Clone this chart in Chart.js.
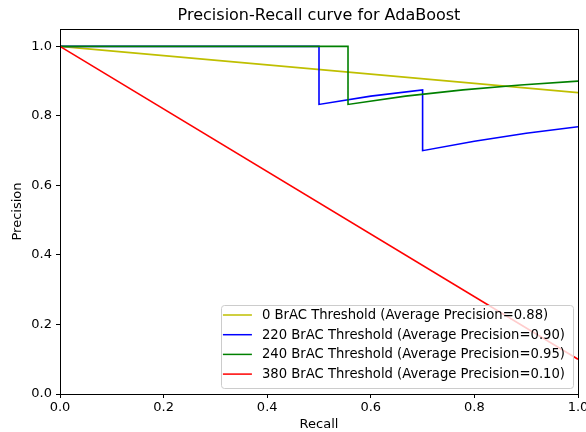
<!DOCTYPE html>
<html>
<head>
<meta charset="utf-8">
<script src="https://cdn.jsdelivr.net/npm/chart.js@4.4.1/dist/chart.umd.min.js"></script>
<style>
  html, body { margin: 0; padding: 0; background: #fff; }
</style>
</head>
<body>
<canvas id="myChart" width="586" height="432"></canvas>
<script>
// values
const recall0 = [0, 1];
const precision0 = [1, 0.867];
const recall220 = [0, 0.5, 0.5, 0.6, 0.7, 0.7, 0.8, 0.9, 1.0];
const precision220 = [1, 1, 0.833, 0.857, 0.875, 0.7, 0.727, 0.75, 0.769];
const recall240 = [0, 0.556, 0.556, 0.667, 0.778, 0.889, 1.0];
const precision240 = [1, 1, 0.833, 0.857, 0.875, 0.889, 0.9];
const recall380 = [0, 1];
const precision380 = [1, 0.1];

const seriesLabels = [
  "0 BrAC Threshold (Average Precision=0.88)",
  "220 BrAC Threshold (Average Precision=0.90)",
  "240 BrAC Threshold (Average Precision=0.95)",
  "380 BrAC Threshold (Average Precision=0.10)",
];
const seriesColors = ["#bfbf00", "#0000ff", "#008000", "#ff0000"];
const xTicks = [0, 0.2, 0.4, 0.6, 0.8, 1.0];
const yTicks = [0, 0.2, 0.4, 0.6, 0.8, 1.0];
const chartTitle = "Precision-Recall curve for AdaBoost";

const FONT = "DejaVu Sans";

function toPoints(xs, ys) {
  return xs.map((x, i) => ({ x: x, y: ys[i] }));
}

const allSeries = [
  [recall0, precision0],
  [recall220, precision220],
  [recall240, precision240],
  [recall380, precision380],
];

// frame, title and the boxed legend in the lower right, matplotlib style
const extras = {
  id: "extras",
  afterDatasetsDraw(chart) {
    const { ctx, chartArea: a } = chart;
    ctx.save();
    ctx.strokeStyle = "#000";
    ctx.lineWidth = 1;
    ctx.strokeRect(Math.round(a.left) + 0.5, Math.round(a.top) + 0.5,
      Math.round(a.right - a.left), Math.round(a.bottom - a.top));

    // title
    ctx.fillStyle = "#000";
    ctx.font = "16px '" + FONT + "'";
    ctx.textAlign = "center";
    ctx.textBaseline = "middle";
    ctx.fillText(chartTitle, (a.left + a.right) / 2, 16);

    // legend
    ctx.font = "13.2px '" + FONT + "'";
    let maxW = 0;
    seriesLabels.forEach((t) => { maxW = Math.max(maxW, ctx.measureText(t).width); });
    const rowH = 19.7;
    const boxW = 41 + maxW + 8;
    const boxH = 83;
    const bx = a.right - 5 - boxW;
    const by = a.bottom - 6.5 - boxH;
    ctx.beginPath();
    ctx.roundRect(Math.round(bx) + 0.5, Math.round(by) + 0.5, Math.round(boxW), Math.round(boxH), 3);
    ctx.fillStyle = "rgba(255,255,255,0.8)";
    ctx.fill();
    ctx.strokeStyle = "#cccccc";
    ctx.stroke();
    ctx.textAlign = "left";
    seriesLabels.forEach((t, i) => {
      const y = by + 10.5 + i * rowH;
      ctx.beginPath();
      ctx.strokeStyle = seriesColors[i];
      ctx.lineWidth = 1.5;
      ctx.moveTo(bx + 2, y);
      ctx.lineTo(bx + 31, y);
      ctx.stroke();
      ctx.fillStyle = "#000";
      ctx.fillText(t, bx + 41, y + 0.5);
    });
    ctx.restore();
  },
};

const ctx = document.getElementById("myChart");

new Chart(ctx, {
  type: "line",
  data: {
    datasets: allSeries.map((s, i) => ({
      label: seriesLabels[i],
      data: toPoints(s[0], s[1]),
      borderColor: seriesColors[i],
      backgroundColor: seriesColors[i],
      borderWidth: 1.6,
      pointRadius: 0,
      tension: 0,
      fill: false,
      order: allSeries.length - 1 - i,
    })),
  },
  options: {
    responsive: false,
    animation: false,
    devicePixelRatio: 1,
    layout: { padding: { top: 29, right: 8, left: 0, bottom: 0 } },
    plugins: {
      legend: { display: false },
      tooltip: { enabled: false },
      title: { display: false },
    },
    scales: {
      x: {
        type: "linear",
        min: 0,
        max: 1,
        afterBuildTicks: (scale) => { scale.ticks = xTicks.map((v) => ({ value: v })); },
        afterFit: (scale) => { scale.height = 38; scale.paddingRight = 0; scale.paddingLeft = 0; },
        ticks: {
          color: "#000",
          font: { family: FONT, size: 13 },
          padding: 2,
          maxRotation: 0,
          callback: (v) => Number(v).toFixed(1),
        },
        grid: { drawOnChartArea: false, drawTicks: true, tickLength: 4, color: "#000" },
        border: { display: true, color: "#000" },
        title: {
          display: true,
          text: "Recall",
          color: "#000",
          font: { family: FONT, size: 13 },
          padding: { top: 0, bottom: 0 },
        },
      },
      y: {
        type: "linear",
        min: 0,
        max: 1.05,
        afterBuildTicks: (scale) => { scale.ticks = yTicks.map((v) => ({ value: v })); },
        afterFit: (scale) => { scale.width = 60; },
        ticks: {
          color: "#000",
          font: { family: FONT, size: 13 },
          padding: 4,
          callback: (v) => Number(v).toFixed(1),
        },
        grid: { drawOnChartArea: false, drawTicks: true, tickLength: 4, color: "#000" },
        border: { display: true, color: "#000" },
        title: {
          display: true,
          text: "Precision",
          color: "#000",
          font: { family: FONT, size: 13 },
          padding: { top: 10, bottom: 0 },
        },
      },
    },
  },
  plugins: [extras],
});
</script>
</body>
</html>
